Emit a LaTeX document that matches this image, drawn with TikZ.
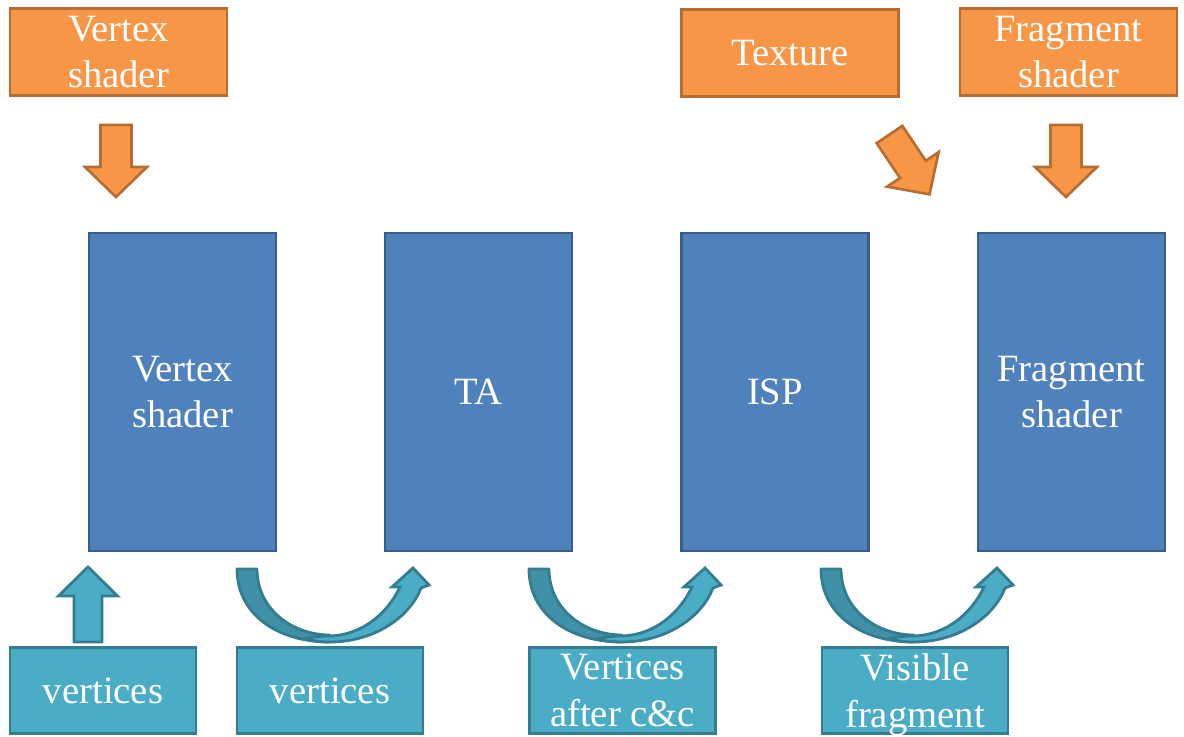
\documentclass[tikz,border=0pt]{standalone}
\usepackage{fontspec}
\setmainfont{Liberation Serif}
\definecolor{orfill}{HTML}{F79646}
\definecolor{ordraw}{HTML}{B66D31}
\definecolor{blfill}{HTML}{4F81BD}
\definecolor{bldraw}{HTML}{385D8A}
\definecolor{tefill}{HTML}{4BACC6}
\definecolor{tedark}{HTML}{3F91A8}
\definecolor{tedraw}{HTML}{347C90}
\tikzset{
  base/.style={rectangle, inner sep=0pt, align=center, text=white,
    font=\fontsize{22}{26}\selectfont, line width=1.4pt},
  bluebox/.style={base, fill=blfill, draw=bldraw, minimum width=3.74cm, minimum height=6.36cm},
  orangebox/.style={base, fill=orfill, draw=ordraw, minimum width=4.34cm, minimum height=1.74cm},
  tealbox/.style={base, fill=tefill, draw=tedraw, minimum width=3.72cm, minimum height=1.72cm,
    font=\fontsize{22}{27}\selectfont},
  orangearrow/.style={fill=orfill, draw=ordraw, line width=1.5pt, line join=miter},
  tealarrow/.style={fill=tefill, draw=tedraw, line width=1.6pt, line join=miter},
  tealdarkarrow/.style={fill=tedark, draw=tedraw, line width=1.6pt, line join=round},
  downarr/.pic={
    \draw[orangearrow] (-15.5,0) -- (15.5,0) -- (15.5,42) -- (31,42) -- (0,72)
      -- (-31,42) -- (-15.5,42) -- cycle;
  },
  curvarr/.pic={
    \draw[tealdarkarrow] (0,0) .. controls (0,45) and (40,73) .. (93,73)
      -- (93,66) .. controls (55,66) and (20,40) .. (20,0) -- cycle;
    \draw[tealarrow] (68,70) .. controls (76,72) and (84,73) .. (93,73)
      .. controls (135,73) and (172,50) .. (184,19) -- (192,16) -- (176,-1)
      -- (155,18) -- (163,18) .. controls (150,45) and (125,66) .. (93,67)
      .. controls (84,67) and (76,68) .. (68,70) -- cycle;
  }
}
\begin{document}
\begin{tikzpicture}[x=0.02cm, y=-0.02cm]
\useasboundingbox (0,0) rectangle (1184,737);
% main blocks
\node[bluebox] (vs) at (182.5,392) {Vertex\\shader};
\node[bluebox] (ta) at (478.5,392) {TA};
\node[bluebox] (isp) at (775,392) {ISP};
\node[bluebox] (fs) at (1071.5,392) {Fragment\\shader};
% top inputs
\node[orangebox] (vsin) at (118.5,52) {Vertex\\shader};
\node[orangebox] (tex) at (790,53) {Texture};
\node[orangebox] (fsin) at (1068.5,52) {Fragment\\shader};
% bottom data
\node[tealbox] (v1) at (103,690.5) {vertices};
\node[tealbox] (v2) at (330,690.5) {vertices};
\node[tealbox] (v3) at (622.5,690.5) {Vertices\\after c\&c};
\node[tealbox, text depth=0pt] (v4) at (915,690.5) {Visible\\fragment};
% orange block arrows
\pic at (116,125) {downarr};
\pic at (1066,125) {downarr};
\pic[rotate=33.8] at (889.5,134.5) {downarr};
% teal up arrow
\draw[tealarrow] (74,642) -- (102,642) -- (102,596) -- (117.5,596) -- (88,567)
  -- (58.5,596) -- (74,596) -- cycle;
% curved arrows
\pic at (237,569) {curvarr};
\pic at (529,569) {curvarr};
\pic at (821,569) {curvarr};
\end{tikzpicture}
\end{document}
